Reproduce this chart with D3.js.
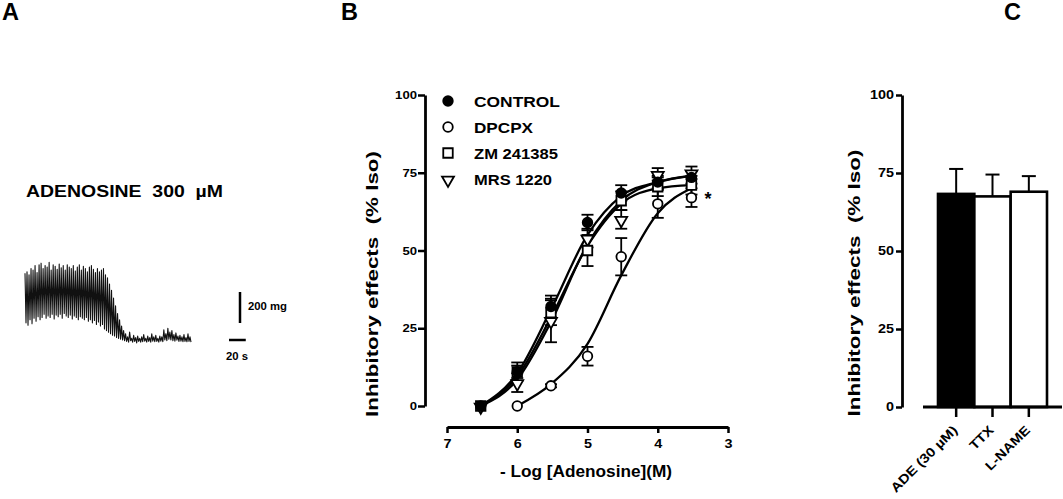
<!DOCTYPE html>
<html>
<head>
<meta charset="utf-8">
<script src="https://cdn.jsdelivr.net/npm/d3@7"></script>
<style>
  html, body { margin: 0; padding: 0; background: #fff; }
  svg { display: block; }
  text { font-family: "Liberation Sans", Arial, sans-serif; font-weight: bold; fill: #000; }
</style>
</head>
<body>
<svg id="chart" width="1063" height="499"></svg>
<script>
// ---------------- DATA ----------------
// Panel A: isometric tension trace (mg), sampled every 1.2 s
const traceStep = 1.2;
const traceTension = [
  450,130, 460,115, 440,150, 480,125, 470,160, 500,140, 455,170, 505,150, 515,165, 480,185,
  500,160, 490,175, 520,165, 470,185, 505,155, 495,180, 475,170, 510,185, 485,160, 500,190,
  470,175, 505,165, 490,180, 480,155, 500,175, 465,165, 490,150, 505,170, 470,160, 495,150,
  480,165, 460,140, 490,150, 500,130, 475,145, 455,120, 480,135, 460,110, 470,120, 480,90,
  440,80, 420,70, 380,60, 340,50, 290,45, 240,35, 190,30, 150,25, 110,20, 80,15,
  60,10, 40,5, 70,15, 30,5, 50,10, 35,0, 45,10, 30,5, 40,8, 55,12, 30,6, 45,10, 35,5,
  60,12, 40,8, 50,10, 30,6, 45,12, 40,8, 85,20, 60,15, 95,25, 70,20, 80,15, 55,12,
  65,18, 45,10, 50,12, 40,8, 55,10, 35,8, 60,10, 40,5
];
const traceLabel = "ADENOSINE  300  \u00B5M";
const scaleBarTension = 200; // mg
const scaleBarTime = 20;     // s

// Panel B: concentration-response
const logConc = [6.52, 6, 5.52, 5, 4.52, 4, 3.52];
const controlMean = [0, 11, 32, 59, 68.5, 72, 73.5];
const controlSem  = [0, 2, 3.5, 2.5, 2.5, 2, 2];
const dpcpxMean   = [null, 0, 6.5, 16, 48, 65, 67];
const dpcpxSem    = [null, 0, 0.5, 3, 6, 4.5, 3];
const zmMean      = [0, 11, 30, 50, 66, 70.5, 71];
const zmSem       = [0, 3, 4, 5, 3, 3, 3];
const mrsMean     = [0, 7.5, 27.5, 54, 60, 74.5, 75];
const mrsSem      = [0, 3, 7, 3, 3, 2, 2];
// fitted sigmoid curves
const controlFit  = [0, 10.5, 31, 55, 67.5, 72, 74];
const dpcpxFit    = [null, 0, 7, 20, 42, 62, 70];
const zmFit       = [0, 9.5, 28.5, 51.5, 65, 70, 71];
const mrsFit      = [0, 8.5, 27, 52, 66, 72, 74];
const seriesNames = ["CONTROL", "DPCPX", "ZM 241385", "MRS 1220"];
const xTicksB = [7, 6, 5, 4, 3];
const yTicks = [0, 25, 50, 75, 100];

// Panel C: bars
const barCategories = ["ADE (30 \u00B5M)", "TTX", "L-NAME"];
const barMeans = [68.3, 67.5, 69];
const barSems  = [8, 7, 5];

// ---------------- DRAW ----------------
const svg = d3.select("#chart");

function label(g, s, x, y, fs, len, anchor, transform) {
  const t = g.append("text")
    .attr("x", x).attr("y", y)
    .attr("font-size", fs)
    .attr("text-anchor", anchor || "start")
    .style("white-space", "pre")
    .text(s);
  if (len) t.attr("textLength", len).attr("lengthAdjust", "spacingAndGlyphs");
  if (transform) t.attr("transform", transform);
  return t;
}

// Panel letters
label(svg, "A", 2, 20, 23, 17);
label(svg, "B", 341, 20, 23, 17);
label(svg, "C", 1004, 20, 23, 17);

// ---------- Panel A ----------
const gA = svg.append("g");
const xA = d3.scaleLinear().domain([0, (traceTension.length - 1) * traceStep]).range([25, 191]);
const yA = d3.scaleLinear().domain([0, 500]).range([343, 343 - 77.5]);
label(gA, traceLabel, 26, 197, 17, 197);
gA.append("path")
  .datum(traceTension)
  .attr("fill", "none")
  .attr("stroke", "#111")
  .attr("stroke-width", 1.1)
  .attr("stroke-linejoin", "round")
  .attr("d", d3.line().x((d, i) => xA(i * traceStep)).y(d => yA(d)));
// scale bars
const vbarLen = yA(0) - yA(scaleBarTension);
gA.append("line").attr("x1", 240).attr("x2", 240).attr("y1", 323 - vbarLen).attr("y2", 323)
  .attr("stroke", "#000").attr("stroke-width", 2.5);
label(gA, scaleBarTension + " mg", 248, 310, 11, 39);
const hbarLen = xA(scaleBarTime) - xA(0);
gA.append("line").attr("x1", 229).attr("x2", 229 + hbarLen).attr("y1", 340).attr("y2", 340)
  .attr("stroke", "#000").attr("stroke-width", 2.5);
label(gA, scaleBarTime + " s", 226, 360, 11, 22);

// ---------- Panel B ----------
const gB = svg.append("g");
const xB = d3.scaleLinear().domain([7, 3]).range([447, 728]);
const yB = d3.scaleLinear().domain([0, 100]).range([406, 95]);

const yAxisB = gB.append("g").attr("transform", "translate(425,0)")
  .call(d3.axisLeft(yB).tickValues(yTicks).tickSize(7).tickSizeOuter(0).tickPadding(1));
const xAxisB = gB.append("g").attr("transform", "translate(0,427)")
  .call(d3.axisBottom(xB).tickValues(xTicksB).tickFormat(d3.format("d")).tickSize(6).tickSizeOuter(0).tickPadding(6));
[yAxisB, xAxisB].forEach(ax => {
  ax.selectAll(".domain").attr("stroke", "#000").attr("stroke-width", 2.8);
  ax.selectAll(".tick line").attr("stroke", "#000").attr("stroke-width", 2.5);
});
yAxisB.selectAll(".tick text")
  .attr("font-size", 11).attr("font-family", null).attr("fill", "#000")
  .each(function () { const n = this.textContent.length; d3.select(this).attr("textLength", 7.3 * n).attr("lengthAdjust", "spacingAndGlyphs"); });
xAxisB.selectAll(".tick text")
  .attr("font-size", 12.5).attr("font-family", null).attr("fill", "#000")
  .attr("textLength", 8).attr("lengthAdjust", "spacingAndGlyphs");

label(gB, "- Log [Adenosine](M)", 586, 477, 16, 172, "middle");
label(gB, "Inhibitory effects  (% Iso)", 0, 0, 17, 266, "middle", "translate(378,284) rotate(-90)");

const seriesB = [
  { name: seriesNames[0], mean: controlMean, sem: controlSem, fit: controlFit, sym: "circle", fill: "#000" },
  { name: seriesNames[1], mean: dpcpxMean, sem: dpcpxSem, fit: dpcpxFit, sym: "circle", fill: "#fff" },
  { name: seriesNames[2], mean: zmMean, sem: zmSem, fit: zmFit, sym: "square", fill: "#fff" },
  { name: seriesNames[3], mean: mrsMean, sem: mrsSem, fit: mrsFit, sym: "triangle", fill: "#fff" }
];
function symbolPath(type) {
  if (type === "circle") return d3.symbol().type(d3.symbolCircle).size(72)();
  if (type === "square") return d3.symbol().type(d3.symbolSquare).size(90)();
  return d3.symbol().type(d3.symbolTriangle).size(62)();
}
function symbolTransform(type, x, y) {
  return type === "triangle" ? `translate(${x},${y + 1}) rotate(180)` : `translate(${x},${y})`;
}

// fitted curves
const lineB = d3.line().defined(d => d[1] != null)
  .x(d => xB(d[0])).y(d => yB(d[1])).curve(d3.curveMonotoneX);
seriesB.forEach(s => {
  gB.append("path")
    .datum(logConc.map((c, i) => [c, s.fit[i]]))
    .attr("fill", "none").attr("stroke", "#000").attr("stroke-width", 2.3)
    .attr("d", lineB);
});
// error bars
seriesB.forEach(s => {
  logConc.forEach((c, i) => {
    const m = s.mean[i], e = s.sem[i];
    if (m == null || !e) return;
    const x = xB(c), y1 = yB(m + e), y2 = yB(m - e);
    gB.append("line").attr("x1", x).attr("x2", x).attr("y1", y1).attr("y2", y2)
      .attr("stroke", "#000").attr("stroke-width", 1.8);
    [y1, y2].forEach(yy => gB.append("line").attr("x1", x - 6).attr("x2", x + 6).attr("y1", yy).attr("y2", yy)
      .attr("stroke", "#000").attr("stroke-width", 1.8));
  });
});
// markers
seriesB.slice().reverse().forEach(s => {
  logConc.forEach((c, i) => {
    const m = s.mean[i];
    if (m == null) return;
    gB.append("path").attr("d", symbolPath(s.sym))
      .attr("transform", symbolTransform(s.sym, xB(c), yB(m)))
      .attr("fill", s.fill).attr("stroke", "#000").attr("stroke-width", 1.8);
  });
});
// legend
const legendY = [101, 127, 153, 179];
const legendLen = [86, 59, 84, 78];
seriesB.forEach((s, i) => {
  gB.append("path").attr("d", symbolPath(s.sym))
    .attr("transform", symbolTransform(s.sym, 448, legendY[i]))
    .attr("fill", s.fill).attr("stroke", "#000").attr("stroke-width", 1.8);
  label(gB, s.name, 474, legendY[i] + 5.5, 15, legendLen[i]);
});
// significance star
label(gB, "*", 708, 205, 18, null, "middle");

// ---------- Panel C ----------
const gC = svg.append("g");
const yC = d3.scaleLinear().domain([0, 100]).range([407, 95]);
const xC = d3.scaleBand().domain(barCategories).range([938, 1047]).paddingInner(0).paddingOuter(0);

const yAxisC = gC.append("g").attr("transform", "translate(902,0)")
  .call(d3.axisLeft(yC).tickValues(yTicks).tickSize(6).tickSizeOuter(0).tickPadding(2));
yAxisC.selectAll(".domain").attr("stroke", "#000").attr("stroke-width", 2.8);
yAxisC.selectAll(".tick line").attr("stroke", "#000").attr("stroke-width", 2.5);
yAxisC.selectAll(".tick text")
  .attr("font-size", 12).attr("font-family", null).attr("fill", "#000")
  .each(function () { const n = this.textContent.length; d3.select(this).attr("textLength", 8 * n).attr("lengthAdjust", "spacingAndGlyphs"); });

label(gC, "Inhibitory effects  (% Iso)", 0, 0, 17, 267, "middle", "translate(860,283) rotate(-90)");

// bars
gC.selectAll("rect.bar").data(barCategories).enter().append("rect")
  .attr("x", d => xC(d)).attr("width", xC.bandwidth())
  .attr("y", (d, i) => yC(barMeans[i])).attr("height", (d, i) => yC(0) - yC(barMeans[i]))
  .attr("fill", (d, i) => i === 0 ? "#000" : "#fff")
  .attr("stroke", "#000").attr("stroke-width", 2.6);
// error bars (upper only)
barCategories.forEach((d, i) => {
  const x = xC(d) + xC.bandwidth() / 2;
  const yTop = yC(barMeans[i] + barSems[i]);
  gC.append("line").attr("x1", x).attr("x2", x).attr("y1", yC(barMeans[i])).attr("y2", yTop)
    .attr("stroke", "#000").attr("stroke-width", 2);
  gC.append("line").attr("x1", x - 7).attr("x2", x + 7).attr("y1", yTop).attr("y2", yTop)
    .attr("stroke", "#000").attr("stroke-width", 2);
});
// x axis
const xAxisC = gC.append("g").attr("transform", "translate(0,407)")
  .call(d3.axisBottom(xC).tickSize(10).tickSizeOuter(0));
xAxisC.select(".domain").remove();
gC.append("line").attr("x1", 923).attr("x2", 1062).attr("y1", 407).attr("y2", 407)
  .attr("stroke", "#000").attr("stroke-width", 2.8);
xAxisC.selectAll(".tick line").attr("stroke", "#000").attr("stroke-width", 2.5);
const catLen = [88, 28, 57];
xAxisC.selectAll(".tick text")
  .attr("font-size", 13).attr("font-family", null).attr("fill", "#000")
  .attr("text-anchor", "end").attr("x", 2).attr("y", 24).attr("dy", null)
  .attr("transform", "rotate(-45 2 24)")
  .each(function (d, i) { d3.select(this).attr("textLength", catLen[i]).attr("lengthAdjust", "spacingAndGlyphs"); });
</script>
</body>
</html>
